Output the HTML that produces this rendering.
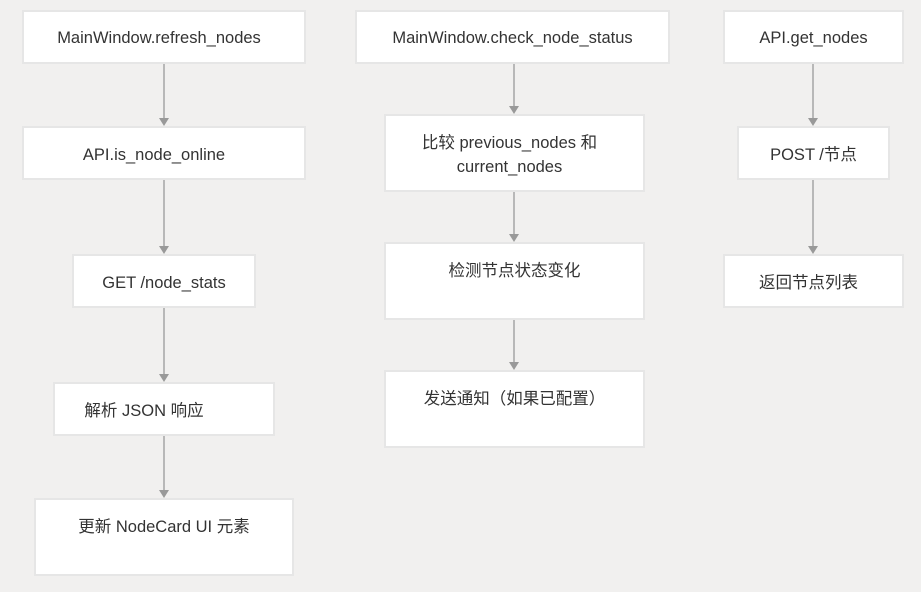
<!DOCTYPE html>
<html><head><meta charset="utf-8"><style>
body{margin:0;width:921px;height:592px;background:#f1f0ef;position:relative;overflow:hidden;font-family:"Liberation Sans","Noto Sans CJK SC",sans-serif;}
.b{position:absolute;background:#fff;border:2px solid #e6e6e6;box-sizing:border-box;color:#333;font-size:16.5px;text-align:center;line-height:24px}
</style></head><body>
<svg width="921" height="592" style="position:absolute;left:0;top:0">
<g stroke="#999" stroke-width="1.3">
<line x1="164" y1="63" x2="164" y2="120"/><line x1="164" y1="179" x2="164" y2="248"/><line x1="164" y1="307" x2="164" y2="376"/><line x1="164" y1="435" x2="164" y2="492"/>
<line x1="514" y1="63" x2="514" y2="108"/><line x1="514" y1="191" x2="514" y2="236"/><line x1="514" y1="319" x2="514" y2="364"/>
<line x1="813" y1="63" x2="813" y2="120"/><line x1="813" y1="179" x2="813" y2="248"/>
</g>
<g fill="#999">
<path d="M159,118 h10 l-5,8z"/><path d="M159,246 h10 l-5,8z"/><path d="M159,374 h10 l-5,8z"/><path d="M159,490 h10 l-5,8z"/>
<path d="M509,106 h10 l-5,8z"/><path d="M509,234 h10 l-5,8z"/><path d="M509,362 h10 l-5,8z"/>
<path d="M808,118 h10 l-5,8z"/><path d="M808,246 h10 l-5,8z"/>
</g></svg>
<div class="b" style="left:22px;top:10px;width:284px;height:54px;padding-top:14px;padding-right:10px">MainWindow.refresh_nodes</div>
<div class="b" style="left:22px;top:126px;width:284px;height:54px;padding-top:15px;padding-right:20px">API.is_node_online</div>
<div class="b" style="left:72px;top:254px;width:184px;height:54px;padding-top:15px">GET /node_stats</div>
<div class="b" style="left:53px;top:382px;width:222px;height:54px;padding-top:15px;padding-right:40px">解析 JSON 响应</div>
<div class="b" style="left:34px;top:498px;width:260px;height:78px;padding-top:15px;padding-right:0px">更新 NodeCard UI 元素</div>
<div class="b" style="left:355px;top:10px;width:315px;height:54px;padding-top:14px">MainWindow.check_node_status</div>
<div class="b" style="left:384px;top:114px;width:261px;height:78px;padding-top:15px;padding-right:10px">比较 previous_nodes 和<br>current_nodes</div>
<div class="b" style="left:384px;top:242px;width:261px;height:78px;padding-top:15px">检测节点状态变化</div>
<div class="b" style="left:384px;top:370px;width:261px;height:78px;padding-top:15px">发送通知（如果已配置）</div>
<div class="b" style="left:723px;top:10px;width:181px;height:54px;padding-top:14px">API.get_nodes</div>
<div class="b" style="left:737px;top:126px;width:153px;height:54px;padding-top:15px">POST /节点</div>
<div class="b" style="left:723px;top:254px;width:181px;height:54px;padding-top:15px;padding-right:10px">返回节点列表</div>
</body></html>
